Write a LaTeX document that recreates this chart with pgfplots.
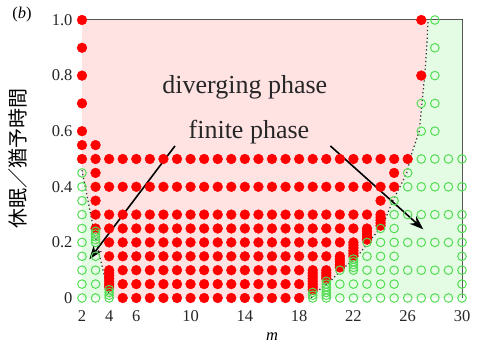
\documentclass[border=0pt]{standalone}
\usepackage{pgfplots}
\pgfplotsset{compat=1.18}
\usepackage{fontspec}
\setmainfont{Liberation Serif}
\newfontfamily\jp{Noto Sans CJK JP}
\usetikzlibrary{arrows.meta}
\definecolor{pinkfill}{RGB}{255,227,227}
\definecolor{greenfill}{RGB}{227,252,227}
\definecolor{redc}{RGB}{255,0,0}
\definecolor{greenc}{RGB}{85,220,85}
\begin{document}
\begin{tikzpicture}
\begin{axis}[
  name=ax,
  scale only axis, width=380pt, height=278pt,
  xmin=2, xmax=30, ymin=0, ymax=1,
  clip=false,
  xtick={2,4,6,10,14,18,22,26,30},
  ytick={0,0.2,0.4,0.6,0.8,1.0},
  yticklabels={0,0.2,0.4,0.6,0.8,1.0},
  major tick length=0pt,
  /pgf/number format/assume math mode=true,
  tick label style={font=\fontsize{16.5}{18}\selectfont, text=black!85},
  xticklabel style={yshift=-9pt},
  yticklabel style={xshift=-6pt},
  axis line style={draw=black!75, line width=1pt},
  xlabel={\textit{m}},
  xlabel style={at={(axis description cs:0.5,0)}, anchor=center, yshift=-38.7pt, font=\fontsize{16.5}{18}\selectfont},
  ylabel={{\jp 休眠／猶予時間}},
  ylabel style={at={(axis description cs:-0.168,0.5)}, anchor=center, rotate=0, font=\fontsize{20}{24}\selectfont},
]
% phase regions
\addplot[draw=none, fill=pinkfill] coordinates {(2,1) (27.5,1) (27.4,0.9) (27.25,0.8) (27.05,0.7) (26.85,0.6) (26.3,0.52) (25.9,0.445) (24.9,0.35) (24.2,0.265) (23.2,0.205) (22.2,0.145) (21.3,0.109) (20.3,0.061) (19.05,0.013) (18.9,0) (4.05,0) (4.0,0.013) (3.7,0.07) (3.3,0.15) (2.85,0.25) (2.6,0.31) (2,0.46)} -- cycle;
\addplot[draw=none, fill=greenfill] coordinates {(2,0) (4.05,0) (4.0,0.013) (3.7,0.07) (3.3,0.15) (2.85,0.25) (2.6,0.31) (2,0.46)} -- cycle;
\addplot[draw=none, fill=greenfill] coordinates {(18.9,0) (30,0) (30,1) (27.5,1) (27.4,0.9) (27.25,0.8) (27.05,0.7) (26.85,0.6) (26.3,0.52) (25.9,0.445) (24.9,0.35) (24.2,0.265) (23.2,0.205) (22.2,0.145) (21.3,0.109) (20.3,0.061) (19.05,0.013)} -- cycle;
% diverging (red)
\addplot[only marks, mark=*, mark size=4.9pt, color=redc, mark options={draw=redc, fill=redc}] table {
x y
2 0.5
2 0.55
2 0.6
2 0.7
2 0.8
2 0.9
2 1.0
3 0.25
3 0.3
3 0.35
3 0.4
3 0.45
3 0.5
3 0.55
4 0.04
4 0.05
4 0.06
4 0.07
4 0.08
4 0.09
4 0.1
4 0.15
4 0.2
4 0.25
4 0.3
4 0.4
4 0.5
5 0
5 0.05
5 0.1
5 0.15
5 0.2
5 0.25
5 0.3
5 0.4
5 0.5
6 0
6 0.05
6 0.1
6 0.15
6 0.2
6 0.25
6 0.3
6 0.4
6 0.5
7 0
7 0.05
7 0.1
7 0.15
7 0.2
7 0.25
7 0.3
7 0.4
7 0.5
8 0
8 0.05
8 0.1
8 0.15
8 0.2
8 0.25
8 0.3
8 0.4
8 0.5
9 0
9 0.05
9 0.1
9 0.15
9 0.2
9 0.25
9 0.3
9 0.4
9 0.5
10 0
10 0.05
10 0.1
10 0.15
10 0.2
10 0.25
10 0.3
10 0.4
10 0.5
11 0
11 0.05
11 0.1
11 0.15
11 0.2
11 0.25
11 0.3
11 0.4
11 0.5
12 0
12 0.05
12 0.1
12 0.15
12 0.2
12 0.25
12 0.3
12 0.4
12 0.5
13 0
13 0.05
13 0.1
13 0.15
13 0.2
13 0.25
13 0.3
13 0.4
13 0.5
14 0
14 0.05
14 0.1
14 0.15
14 0.2
14 0.25
14 0.3
14 0.4
14 0.5
15 0
15 0.05
15 0.1
15 0.15
15 0.2
15 0.25
15 0.3
15 0.4
15 0.5
16 0
16 0.05
16 0.1
16 0.15
16 0.2
16 0.25
16 0.3
16 0.4
16 0.5
17 0
17 0.05
17 0.1
17 0.15
17 0.2
17 0.25
17 0.3
17 0.4
17 0.5
18 0
18 0.05
18 0.1
18 0.15
18 0.2
18 0.25
18 0.3
18 0.4
18 0.5
19 0.03
19 0.04
19 0.05
19 0.06
19 0.07
19 0.08
19 0.09
19 0.1
19 0.15
19 0.2
19 0.25
19 0.3
19 0.4
19 0.5
20 0.07
20 0.08
20 0.09
20 0.1
20 0.15
20 0.2
20 0.25
20 0.3
20 0.4
20 0.5
21 0.11
21 0.12
21 0.13
21 0.14
21 0.15
21 0.2
21 0.25
21 0.3
21 0.4
21 0.5
22 0.15
22 0.16
22 0.17
22 0.18
22 0.19
22 0.2
22 0.25
22 0.3
22 0.4
22 0.5
23 0.21
23 0.22
23 0.23
23 0.24
23 0.25
23 0.3
23 0.4
23 0.5
24 0.26
24 0.27
24 0.28
24 0.29
24 0.3
24 0.35
24 0.4
24 0.5
25 0.4
25 0.45
25 0.5
26 0.5
27 0.8
27 1.0
};
% finite (green)
\addplot[only marks, mark=o, mark size=4.3pt, color=greenc, mark options={draw=greenc, line width=1pt}] table {
x y
2 0
2 0.05
2 0.1
2 0.15
2 0.2
2 0.25
2 0.3
2 0.35
2 0.4
2 0.45
3 0
3 0.05
3 0.1
3 0.15
3 0.2
3 0.21
3 0.22
3 0.23
3 0.24
4 0
4 0.01
4 0.02
4 0.03
19 0
19 0.01
19 0.02
20 0
20 0.01
20 0.02
20 0.03
20 0.04
20 0.05
20 0.06
21 0
21 0.05
21 0.1
22 0
22 0.05
22 0.1
22 0.11
22 0.12
22 0.13
22 0.14
23 0
23 0.05
23 0.1
23 0.15
23 0.2
24 0
24 0.05
24 0.1
24 0.15
24 0.2
24 0.25
25 0
25 0.05
25 0.1
25 0.15
25 0.2
25 0.25
25 0.3
25 0.35
26 0
26 0.1
26 0.2
26 0.3
26 0.4
26 0.45
27 0
27 0.1
27 0.2
27 0.3
27 0.4
27 0.5
27 0.6
27 0.7
28 0
28 0.1
28 0.2
28 0.3
28 0.4
28 0.5
28 0.6
28 0.7
28 0.8
28 0.9
28 1.0
29 0
29 0.1
29 0.2
29 0.3
29 0.4
29 0.5
30 0
30 0.05
30 0.1
30 0.15
30 0.2
30 0.25
30 0.3
30 0.4
30 0.5
};
% phase boundaries
\addplot[black!80, line width=1.2pt, dash pattern=on 1.3pt off 2.6pt] coordinates {(2,0.46) (2.6,0.31) (2.85,0.25) (3.3,0.15) (3.7,0.07) (4.0,0.013) (4.05,0)};
\addplot[black!80, line width=1.2pt, dash pattern=on 1.3pt off 2.6pt] coordinates {(18.9,0) (19.05,0.013) (20.3,0.061) (21.3,0.109) (22.2,0.145) (23.2,0.205) (24.2,0.265) (24.9,0.35) (25.9,0.445) (26.3,0.52) (26.85,0.6) (27.05,0.7) (27.25,0.8) (27.4,0.9) (27.5,1.0)};
% annotations
\draw[black, line width=1.6pt, -{Stealth[length=14pt,width=10pt]}] (axis cs:8.85,0.547) -- (axis cs:2.54,0.139);
\draw[black, line width=1.6pt, -{Stealth[length=14pt,width=10pt]}] (axis cs:20.3,0.547) -- (axis cs:27.15,0.247);
\node[anchor=base, font=\fontsize{26}{30}\selectfont, text=black!85, inner sep=0pt] at (axis cs:14.0,0.737) {diverging phase};
\node[anchor=base, font=\fontsize{26}{30}\selectfont, text=black!85, inner sep=0pt] at (axis cs:14.3,0.575) {finite phase};
\end{axis}
\node[font=\fontsize{16.5}{18}\selectfont] at ([xshift=-60pt,yshift=5pt]ax.north west) {(\textit{b})};
\pgfresetboundingbox
\path[use as bounding box] ([xshift=-82pt,yshift=-46pt]ax.south west) rectangle ([xshift=16pt,yshift=20pt]ax.north east);
\end{tikzpicture}
\end{document}
